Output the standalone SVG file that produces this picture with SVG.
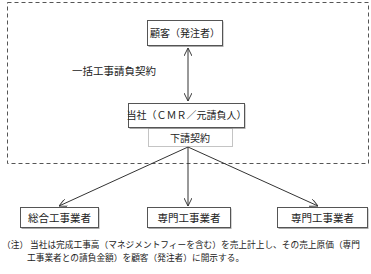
<svg xmlns="http://www.w3.org/2000/svg" width="371" height="274" viewBox="0 0 371 274">
<defs>
<style>
text{font-family:"Noto Sans CJK JP","Noto Sans CJK SC",sans-serif;fill:#222;}
.box{fill:#fff;stroke:#555;stroke-width:1;}
.shadow{fill:#aaa;}
.lbl{font-size:10px;text-anchor:middle;}
.edge{stroke:#333;stroke-width:1;fill:none;}
.note{font-size:8.7px;}
</style>
<marker id="arr" viewBox="0 0 10 10" refX="10" refY="5" markerWidth="8" markerHeight="8" orient="auto-start-reverse" markerUnits="userSpaceOnUse">
<path d="M0,0 L10,5 L0,10" fill="none" stroke="#333" stroke-width="1.2"/>
</marker>
</defs>
<rect x="7.5" y="2.5" width="361" height="161" fill="none" stroke="#555" stroke-width="1" stroke-dasharray="4,3"/>
<g id="connectors">
<line class="edge" x1="188" y1="48" x2="188" y2="101" marker-start="url(#arr)" marker-end="url(#arr)"/>
<line class="edge" x1="188" y1="147" x2="59" y2="206" marker-end="url(#arr)"/>
<line class="edge" x1="188" y1="147" x2="188" y2="206" marker-end="url(#arr)"/>
<line class="edge" x1="188" y1="147" x2="318" y2="206" marker-end="url(#arr)"/>
<text x="72" y="75" style="font-size:10.5px">一括工事請負契約</text>
</g>
<g id="customer">
<rect class="shadow" x="148.5" y="21.5" width="75" height="25.5"/>
<rect class="box" x="147.5" y="20.5" width="75" height="25"/>
<text class="lbl" x="185" y="36.5">顧客（発注者）</text>
</g>
<g id="company">
<rect class="shadow" x="129.5" y="104.5" width="116" height="24.5"/>
<rect class="box" x="128.5" y="103.5" width="116" height="24"/>
<text class="lbl" x="186.5" y="119">当社（ＣＭＲ／元請負人）</text>
</g>
<g id="subcontract">
<rect x="148.5" y="128.5" width="84" height="18" fill="none" stroke="#888" stroke-width="1" stroke-dasharray="1,1"/>
<text class="lbl" x="190" y="141.5">下請契約</text>
</g>
<g id="general">
<rect class="shadow" x="21.5" y="208.5" width="78" height="20.5"/>
<rect class="box" x="20.5" y="207.5" width="78" height="20"/>
<text class="lbl" x="59.5" y="221.5" style="font-size:10.5px">総合工事業者</text>
</g>
<g id="specialist1">
<rect class="shadow" x="148.5" y="208.5" width="83" height="20.5"/>
<rect class="box" x="147.5" y="207.5" width="83" height="20"/>
<text class="lbl" x="189" y="221.5" style="font-size:10.5px">専門工事業者</text>
</g>
<g id="specialist2">
<rect class="shadow" x="278.5" y="208.5" width="90" height="20.5"/>
<rect class="box" x="277.5" y="207.5" width="90" height="20"/>
<text class="lbl" x="322.5" y="221.5" style="font-size:10.5px">専門工事業者</text>
</g>
<text class="note" x="2" y="248">（注） 当社は完成工事高（マネジメントフィーを含む）を売上計上し、その売上原価（専門</text>
<text class="note" x="27" y="261">工事業者との請負金額）を顧客（発注者）に開示する。</text>
</svg>
